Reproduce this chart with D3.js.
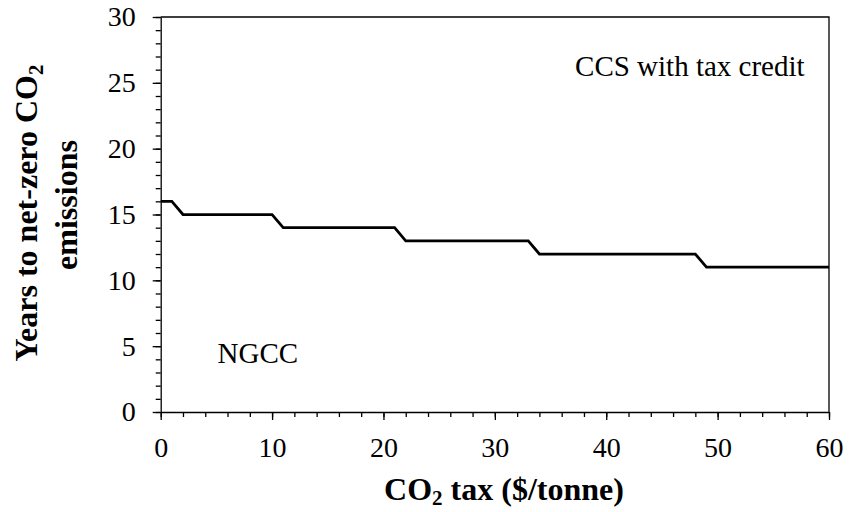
<!DOCTYPE html>
<html>
<head>
<meta charset="utf-8">
<script src="https://cdn.jsdelivr.net/npm/d3@7"></script>
<style>
  body { margin: 0; background: #fff; }
  svg text { font-family: "Liberation Serif", Tinos, "Times New Roman", Times, "DejaVu Serif", serif; fill: #000; }
</style>
</head>
<body>
<div id="chart"></div>
<script>
// CO2 tax ($/tonne) and years to net-zero
const taxValues = [0, 1, 2, 10, 11, 21, 22, 33, 34, 48, 49, 60];
const yearsValues = [16, 16, 15, 15, 14, 14, 13, 13, 12, 12, 11, 11];
const xTicks = [0, 10, 20, 30, 40, 50, 60];
const yTicks = [0, 5, 10, 15, 20, 25, 30];
const annotations = [
    { text: "CCS with tax credit", tax: 37.2, years: 25.5 },
    { text: "NGCC", tax: 5.1, years: 3.7 }
];

const FONT = '"Liberation Serif", Tinos, "Times New Roman", Times, "DejaVu Serif", serif';
const W = 849, H = 512;
const margin = { top: 17, right: 20, bottom: 100, left: 160.7 };
const width = 829 - margin.left;
const height = 412 - margin.top;

const svg = d3.select("#chart")
    .append("svg")
    .attr("width", W)
    .attr("height", H)
    .attr("font-family", FONT);

const g = svg.append("g")
    .attr("transform", `translate(${margin.left},${margin.top})`);

const x = d3.scaleLinear().domain([0, 60]).range([0, width]);
const y = d3.scaleLinear().domain([0, 30]).range([height, 0]);

// frame (top and right)
g.append("path")
    .attr("d", `M0,0H${width}V${height}`)
    .attr("fill", "none")
    .attr("stroke", "#000")
    .attr("stroke-width", 1.3);

// minor ticks
g.append("g")
    .attr("transform", `translate(0,${height})`)
    .call(d3.axisBottom(x).tickValues(d3.range(0, 61, 2)).tickSize(5).tickFormat(""))
    .call(a => a.select(".domain").remove())
    .selectAll("line").attr("stroke-width", 1.3);

g.append("g")
    .call(d3.axisLeft(y).tickValues(d3.range(0, 31, 1)).tickSize(5).tickFormat(""))
    .call(a => a.select(".domain").remove())
    .selectAll("line").attr("stroke-width", 1.3);

// major axes
const xAxis = g.append("g")
    .attr("transform", `translate(0,${height})`)
    .call(d3.axisBottom(x).tickValues(xTicks).tickSize(8).tickSizeOuter(0).tickPadding(17));

const yAxis = g.append("g")
    .call(d3.axisLeft(y).tickValues(yTicks).tickSize(8).tickSizeOuter(0).tickPadding(17));

[xAxis, yAxis].forEach(a => {
    a.attr("font-family", FONT).attr("font-size", 28);
    a.select(".domain").attr("stroke-width", 1.3);
    a.selectAll("line").attr("stroke-width", 1.3);
    a.selectAll("text")
        .style("font-family", FONT)
        .style("font-size", "28px")
        .attr("fill", "#000");
});

// step line
const line = d3.line()
    .x((d, i) => x(taxValues[i]))
    .y(d => y(d));

g.append("path")
    .datum(yearsValues)
    .attr("d", line)
    .attr("fill", "none")
    .attr("stroke", "#000")
    .attr("stroke-width", 2.75)
    .attr("stroke-linejoin", "miter");

// annotations
g.selectAll(".note")
    .data(annotations)
    .enter()
    .append("text")
    .attr("class", "note")
    .attr("x", d => x(d.tax))
    .attr("y", d => y(d.years))
    .style("font-family", FONT)
    .style("font-size", "29px")
    .text(d => d.text);

// x title
const xt = svg.append("text")
    .attr("x", 504)
    .attr("y", 500)
    .attr("text-anchor", "middle")
    .style("font-family", FONT)
    .style("font-size", "32px")
    .style("font-weight", "bold");
xt.append("tspan").text("CO");
xt.append("tspan").attr("dy", 5).style("font-size", "21px").text("2");
xt.append("tspan").attr("dy", -5).text(" tax ($/tonne)");

// y title (two lines)
const yt = svg.append("text")
    .attr("transform", "translate(37,213) rotate(-90)")
    .attr("text-anchor", "middle")
    .style("font-family", FONT)
    .style("font-size", "32px")
    .style("font-weight", "bold");
yt.append("tspan").text("Years to net-zero CO");
yt.append("tspan").attr("dy", 6).style("font-size", "21px").text("2");

svg.append("text")
    .attr("transform", "translate(77,205) rotate(-90)")
    .attr("text-anchor", "middle")
    .style("font-family", FONT)
    .style("font-size", "32px")
    .style("font-weight", "bold")
    .text("emissions");
</script>
</body>
</html>
